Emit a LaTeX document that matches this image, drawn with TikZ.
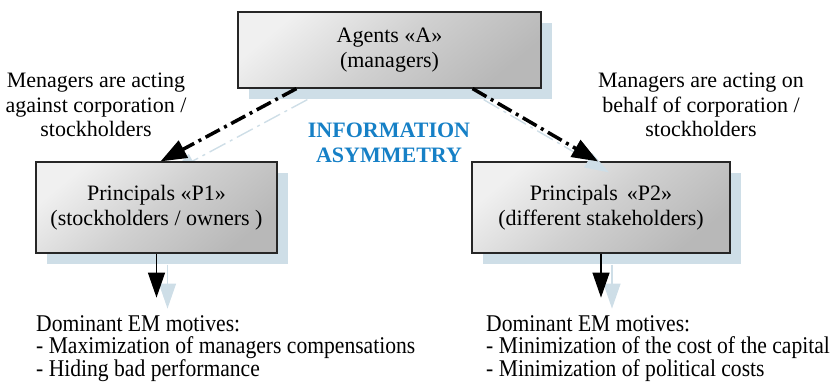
\documentclass[tikz,border=0pt]{standalone}
\usepackage{fontspec}
\setmainfont{Liberation Serif}
\newfontfamily\narrowserif[FakeStretch=0.9]{Liberation Serif}
\usetikzlibrary{arrows.meta,shadows,backgrounds}
\definecolor{shadowblue}{RGB}{206,222,231}
\definecolor{infoblue}{RGB}{22,128,198}
\definecolor{boxlight}{RGB}{240,240,240}
\definecolor{boxmid}{RGB}{208,208,208}
\definecolor{boxdark}{RGB}{184,184,184}
\tikzset{
	box/.style={draw=black!85, line width=1.2pt, top color=boxlight, bottom color=boxdark, middle color=boxmid, shading angle=40,
		align=center, inner sep=0pt, font=\fontsize{22}{24.5}\selectfont,
		drop shadow={shadow xshift=11pt, shadow yshift=-11pt, fill=shadowblue, opacity=1}},
	note/.style={align=center, inner sep=0pt, font=\fontsize{22}{24.5}\selectfont},
	motives/.style={align=left, inner sep=0pt, anchor=north west, font=\narrowserif\fontsize{24}{22.5}\selectfont},
	agentarrow/.style={line width=3.5pt, dash pattern=on 16pt off 5pt on 3pt off 5pt, -{Triangle[length=26pt,width=19pt]}},
	downarrow/.style={line width=1.2pt, -{Triangle[length=25pt,width=17pt]}},
	shadowcopy/.style={shadowblue, transform canvas={xshift=11pt,yshift=-11pt}},
	shadowdash/.style={line width=1.4pt, dash pattern=on 18pt off 5pt on 3pt off 5pt, -{Triangle[length=24pt,width=16pt]}}
}
\begin{document}
\begin{tikzpicture}[x=1pt,y=-1pt]
	\useasboundingbox (0,0) rectangle (838,383);
	\node[box, minimum width=303pt, minimum height=76pt] (A)  at (389.5,50)  {Agents «A»\\(managers)};
	\node[box, minimum width=241pt, minimum height=91pt] (P1) at (156.5,207.5) {Principals «P1»\\(stockholders / owners )};
	\node[box, minimum width=258pt, minimum height=91pt] (P2) at (601,207.5)   {Principals \,«P2»\\(different stakeholders)};
	%
	\node[note] (against) at (96,105)  {Menagers are acting\\against corporation /\\stockholders};
	\node[note] (behalf)  at (701,105) {Managers are acting on\\behalf of corporation /\\stockholders};
	\node[note, font=\fontsize{22}{25}\selectfont\bfseries, text=infoblue] (info) at (389,143) {INFORMATION\\ASYMMETRY};
	%
	\coordinate (a1) at ([xshift=59pt]A.south west);
	\coordinate (a2) at ([xshift=-69pt]A.south east);
	\coordinate (p1) at ([xshift=4pt]P1.north);
	\coordinate (p2) at ([xshift=-3pt]P2.north);
	% shadows of the connectors
	\begin{scope}[on background layer]
		\draw[shadowcopy, shadowdash] (a1) -- (p1);
		\draw[shadowcopy, line width=1.2pt, -{Triangle[length=25pt,width=17pt]}] (P1.south) -- ([yshift=-44pt]P1.south);
		\draw[shadowcopy, line width=1.2pt, -{Triangle[length=25pt,width=17pt]}] (P2.south) -- ([yshift=-44pt]P2.south);
	\end{scope}
	\draw[shadowcopy, shadowdash] (a2) -- (p2);
	%
	\draw[agentarrow] (a1) -- (p1);
	\draw[agentarrow] (a2) -- (p2);
	\foreach \p in {P1,P2}
	{	\coordinate (\p tip) at ([yshift=-44pt]\p.south);
		\draw[downarrow] (\p.south) -- (\p tip);
	}
	%
	\node[motives] (m1) at (36,315)  {Dominant EM motives:\\- Maximization of managers compensations\\- Hiding bad performance};
	\node[motives] (m2) at (486,315) {Dominant EM motives:\\- Minimization of the cost of the capital\\- Minimization of political costs};
\end{tikzpicture}
\end{document}
